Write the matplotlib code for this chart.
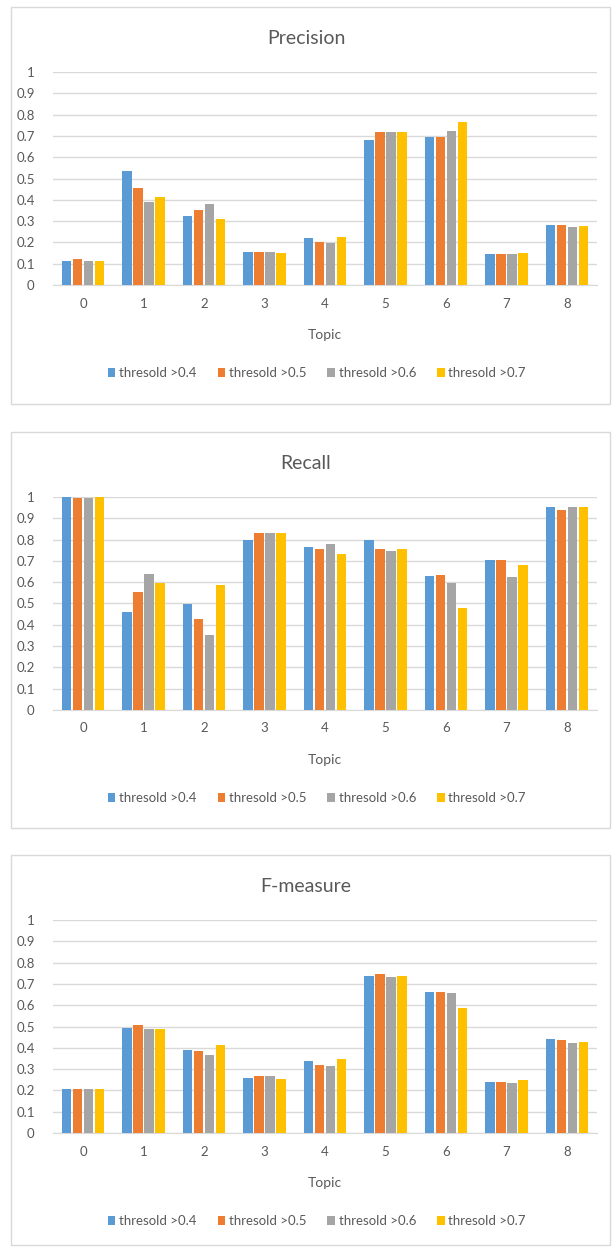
import numpy as np
import matplotlib
matplotlib.use("Agg")
import matplotlib.pyplot as plt
from matplotlib.patches import Rectangle

topics = ["0", "1", "2", "3", "4", "5", "6", "7", "8"]
series = ["thresold >0.4", "thresold >0.5", "thresold >0.6", "thresold >0.7"]

precision = [
    [0.113, 0.537, 0.325, 0.155, 0.220, 0.681, 0.695, 0.144, 0.281],
    [0.121, 0.455, 0.352, 0.155, 0.200, 0.719, 0.695, 0.144, 0.281],
    [0.113, 0.388, 0.381, 0.155, 0.195, 0.719, 0.725, 0.144, 0.270],
    [0.113, 0.413, 0.312, 0.149, 0.226, 0.719, 0.763, 0.149, 0.275],
]
recall = [
    [1.000, 0.458, 0.496, 0.800, 0.765, 0.796, 0.628, 0.702, 0.953],
    [0.995, 0.553, 0.427, 0.830, 0.758, 0.758, 0.633, 0.702, 0.939],
    [0.995, 0.639, 0.352, 0.832, 0.777, 0.746, 0.598, 0.623, 0.953],
    [1.000, 0.598, 0.589, 0.832, 0.733, 0.758, 0.477, 0.683, 0.953],
]
fmeasure = [
    [0.208, 0.492, 0.392, 0.260, 0.340, 0.738, 0.663, 0.241, 0.442],
    [0.208, 0.506, 0.386, 0.266, 0.321, 0.745, 0.663, 0.241, 0.437],
    [0.208, 0.486, 0.367, 0.266, 0.315, 0.732, 0.657, 0.235, 0.423],
    [0.208, 0.487, 0.411, 0.254, 0.348, 0.738, 0.588, 0.248, 0.429],
]

colors = ["#5B9BD5", "#ED7D31", "#A5A5A5", "#FFC000"]
txt = "#595959"
grid = "#D9D9D9"
W, H = 612, 1250

plt.rcParams["font.family"] = ["Lato", "DejaVu Sans"]

fig = plt.figure(figsize=(W / 100, H / 100), dpi=100)

# (title, data, panel box top/bottom px, axes top/bottom px)
panels = [
    ("Precision", precision, 7, 404, 72, 285),
    ("Recall", recall, 432, 828, 497, 710),
    ("F-measure", fmeasure, 855, 1245, 920, 1133),
]

x = np.arange(len(topics))
pitch = 0.18
bw = 0.155

for title, data, ptop, pbot, atop, abot in panels:
    fig.patches.append(Rectangle((11 / W, 1 - pbot / H), 599 / W, (pbot - ptop) / H,
                                 transform=fig.transFigure, fill=False,
                                 edgecolor=grid, lw=1))
    ax = fig.add_axes([52.75 / W, 1 - abot / H, 544.5 / W, (abot - atop) / H])
    for i, (vals, c) in enumerate(zip(data, colors)):
        ax.bar(x + (i - 1.5) * pitch, vals, bw, color=c, label=series[i], zorder=3)
    ax.set_xlim(-0.5, len(topics) - 0.5)
    ax.set_ylim(0, 1)
    ax.set_yticks(np.arange(0, 1.01, 0.1))
    ax.set_yticklabels(["0", "0.1", "0.2", "0.3", "0.4", "0.5", "0.6", "0.7", "0.8", "0.9", "1"])
    ax.set_xticks(x)
    ax.set_xticklabels(topics)
    ax.tick_params(length=0, colors=txt, labelsize=9.5)
    ax.tick_params(axis="y", pad=13)
    ax.tick_params(axis="x", pad=9)
    ax.yaxis.grid(True, color=grid, lw=1, zorder=0)
    for s in ["top", "left", "right"]:
        ax.spines[s].set_visible(False)
    ax.spines["bottom"].set_color(grid)
    ax.set_xlabel("Topic", color=txt, fontsize=10, labelpad=14)
    fig.text(0.5, 1 - (ptop + 31) / H, title, ha="center", va="center",
             color=txt, fontsize=14)
    ax.legend(loc="upper center", bbox_to_anchor=(0.485, -0.33), ncol=4, frameon=False,
              fontsize=9.5, labelcolor=txt, handlelength=0.55, handleheight=0.75,
              handletextpad=0.3, columnspacing=1.6)

fig.savefig("out.png", dpi=100, facecolor="white")
